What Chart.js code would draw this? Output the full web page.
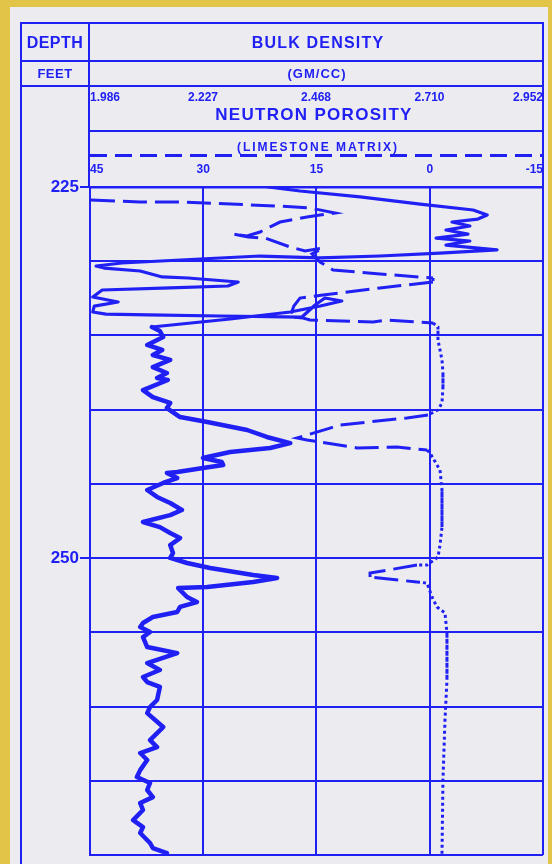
<!DOCTYPE html>
<html>
<head>
<meta charset="utf-8">
<script src="https://cdn.jsdelivr.net/npm/chart.js@4.4.1/dist/chart.umd.min.js"></script>
<style>
  html, body { margin: 0; padding: 0; }
  body { width: 552px; height: 864px; background: #e2c548; position: relative; overflow: hidden;
         font-family: "Liberation Sans", Arial, sans-serif; }
  #paper { position: absolute; left: 10px; top: 7px; width: 538px; height: 857px; background: #ececf0; }
  .ln { position: absolute; background: #2020f5; }
  .tx { position: absolute; transform: translate(-50%, -50%); white-space: nowrap; color: #2020f5;
        font-weight: bold; line-height: 1; z-index: 3; }
  #log { position: absolute; left: 0; top: 0; z-index: 2; }
  #dash { position: absolute; left: 90px; top: 154px; width: 453px; height: 3px;
          background: repeating-linear-gradient(90deg, #2020f5 0 17px, transparent 17px 25px); }
</style>
</head>
<body>
<div id="paper"></div>

<!-- header frame -->
<div class="ln" style="left:20px;top:22px;width:524px;height:2px"></div>
<div class="ln" style="left:20px;top:60px;width:524px;height:2px"></div>
<div class="ln" style="left:20px;top:85px;width:524px;height:2px"></div>
<div class="ln" style="left:20px;top:22px;width:2px;height:842px"></div>
<div class="ln" style="left:88px;top:22px;width:2px;height:166px"></div>
<div class="ln" style="left:542px;top:22px;width:2px;height:166px"></div>
<div id="dash"></div>

<!-- header text -->
<div class="tx" style="left:55px;top:43px;font-size:16px;letter-spacing:0.5px">DEPTH</div>
<div class="tx" style="left:55px;top:73px;font-size:13px;letter-spacing:0.5px">FEET</div>
<div class="tx" style="left:318px;top:43px;font-size:16px;letter-spacing:1.2px">BULK DENSITY</div>
<div class="tx" style="left:317px;top:73px;font-size:13px;letter-spacing:1px">(GM/CC)</div>
<div class="tx" style="left:314px;top:114px;font-size:17px;letter-spacing:1.3px">NEUTRON POROSITY</div>
<div class="tx" style="left:318px;top:147px;font-size:12px;letter-spacing:2px">(LIMESTONE MATRIX)</div>

<canvas id="log" width="552" height="864"></canvas>

<script>
const BLUE = '#2020f5';

// depth track: grid every 5 ft, labels every 25 ft
const depthGrid = [225, 230, 235, 240, 245, 250, 255, 260, 265, 270];
const depthLabels = [225, 250];

// scale ticks of the two curves, left to right
const densityTicks = [1.986, 2.227, 2.468, 2.710, 2.952];
const neutronTicks = [45, 30, 15, 0, -15];

// bulk density (g/cc) against depth (ft), solid curve
const densityDepth = [
  225.00, 225.27, 225.67, 226.15, 226.55, 226.89, 227.16, 227.36, 227.63, 227.90,
  228.17, 228.44, 228.64, 228.91, 229.24, 229.45, 229.65, 229.78, 229.65, 229.85,
  230.12, 230.32, 230.46, 230.66, 231.06, 231.13, 231.40, 231.67, 231.80, 231.94,
  232.41, 232.75, 233.02, 233.42, 233.56, 233.62, 233.69, 233.76, 232.95, 232.48,
  232.68, 233.02, 233.42, 233.89, 234.43, 234.70,
  235.11, 235.64, 235.98, 236.32, 236.65, 237.13, 237.53, 237.87, 238.00, 238.68,
  239.15, 239.55, 239.89, 240.50, 240.83, 241.37, 241.84, 242.25, 242.58, 242.85,
  243.19, 243.26, 243.53, 243.73, 243.93, 244.20, 244.27, 244.61, 244.94, 245.41,
  245.88, 246.29, 246.76, 247.10, 247.57, 247.91, 248.31, 248.65, 249.12, 249.66,
  249.99, 250.33, 250.67, 251.14, 251.34, 251.61, 251.95, 252.02, 252.62, 252.96,
  253.29, 253.63, 253.97, 254.37, 254.64, 254.98, 255.32, 255.99, 256.40, 257.07,
  257.54, 258.01, 258.35, 258.68, 259.56, 260.03, 260.44, 261.38, 262.26, 262.73,
  263.13, 263.60, 264.28, 264.75, 265.15, 265.62, 266.10, 266.50, 266.97, 267.65,
  268.12, 268.52, 269.19, 269.53, 269.87, 270.00
];
const densityValue = [
  2.366, 2.434, 2.562, 2.690, 2.803, 2.833, 2.813, 2.758, 2.796, 2.745,
  2.792, 2.724, 2.796, 2.745, 2.854, 2.732, 2.604, 2.476, 2.349, 2.221,
  2.054, 1.999, 2.016, 2.093, 2.140, 2.195, 2.302, 2.280, 2.157, 2.012,
  1.992, 2.046, 1.995, 1.992, 2.020, 2.110, 2.263, 2.438, 2.466, 2.487,
  2.523, 2.477, 2.413, 2.285, 2.118, 2.135,
  2.142, 2.108, 2.140, 2.120, 2.157, 2.120, 2.150, 2.129, 2.152, 2.099,
  2.120, 2.157, 2.150, 2.178, 2.236, 2.321, 2.363, 2.413, 2.370, 2.285,
  2.236, 2.227, 2.267, 2.270, 2.227, 2.172, 2.150, 2.172, 2.142, 2.108,
  2.129, 2.157, 2.182, 2.157, 2.099, 2.135, 2.157, 2.178, 2.157, 2.163,
  2.157, 2.193, 2.242, 2.334, 2.385, 2.334, 2.236, 2.174, 2.193, 2.214,
  2.178, 2.172, 2.120, 2.099, 2.093, 2.114, 2.099, 2.108, 2.172, 2.108,
  2.135, 2.099, 2.108, 2.135, 2.129, 2.114, 2.108, 2.142, 2.114, 2.129,
  2.093, 2.108, 2.093, 2.086, 2.114, 2.108, 2.120, 2.093, 2.099, 2.078,
  2.099, 2.093, 2.114, 2.120, 2.150, 2.146
];

// neutron porosity (limestone units, %) against depth (ft), dashed curve
const neutronDepth = [
  225.88, 226.01, 226.01, 226.28, 226.41, 226.75, 226.89, 227.02, 227.36, 228.03,
  228.30, 228.17, 228.37, 228.44, 229.04, 229.31, 229.11, 229.51, 230.05, 230.59,
  230.86, 231.13, 231.40, 231.80, 232.28, 232.48, 233.02, 233.76, 233.83, 233.96,
  234.10, 233.96, 234.16, 234.43, 234.97, 235.30, 236.65, 237.53, 238.47, 239.55,
  240.02, 240.36, 240.56, 241.03, 241.24, 241.91, 242.04, 242.58, 242.52, 242.72,
  242.92, 244.07, 245.41, 247.91, 249.12, 249.93, 250.47, 250.47, 251.01, 251.28,
  251.61, 251.68, 252.62, 253.29, 253.70, 255.04, 258.21, 260.90, 264.94, 270.00
];
const neutronValue = [
  44.87, 38.38, 33.08, 20.23, 15.86, 12.55, 14.54, 16.26, 19.83, 22.48,
  24.20, 26.06, 24.07, 21.82, 18.51, 16.52, 14.14, 15.60, 14.54, 12.81,
  6.59, -0.43, -0.43, 6.59, 14.14, 17.19, 18.00, 18.51, 16.79, 15.86,
  7.52, 5.66, -0.43, -1.09, -1.09, -1.09, -1.62, -1.75, -1.75, -1.62,
  -1.09, 0.23, 3.01, 11.89, 13.21, 17.58, 16.26, 9.64, 4.34, 0.36,
  -0.03, -1.36, -1.62, -1.62, -1.36, -1.09, 0.36, 1.69, 7.91, 7.91,
  1.69, 0.36, -0.30, -0.96, -2.02, -2.28, -2.28, -2.02, -1.75, -1.62
];

// top of the salt, below which the density trace is drawn heavier
const saltTop = 234.5;

const toPoints = (depths, values) => depths.map((d, i) => ({ x: values[i], y: d }));

// removes the label overflow margins so the plot frame sits exactly inside the layout padding
const noOverflow = s => { s.paddingLeft = 0; s.paddingRight = 0; s.paddingTop = 0; s.paddingBottom = 0; };

Chart.defaults.font.family = '"Liberation Sans", Arial, sans-serif';

new Chart(document.getElementById('log'), {
  type: 'scatter',
  data: {
    datasets: [
      {
        label: 'Bulk density',
        data: toPoints(densityDepth, densityValue),
        xAxisID: 'x', yAxisID: 'y',
        showLine: true,
        borderColor: BLUE,
        borderWidth: 4.5,
        borderJoinStyle: 'round',
        borderCapStyle: 'round',
        pointRadius: 0,
        tension: 0,
        segment: {
          borderWidth: c => (c.p0.parsed.y < saltTop && c.p1.parsed.y < saltTop) ? 3.2 : 4.5
        }
      },
      {
        label: 'Neutron porosity',
        data: toPoints(neutronDepth, neutronValue),
        xAxisID: 'x2', yAxisID: 'y',
        showLine: true,
        borderColor: BLUE,
        borderWidth: 3,
        pointRadius: 0,
        tension: 0,
        segment: {
          // tight dots along the zero-porosity baseline, long dashes elsewhere
          borderDash: c => (Math.abs(c.p0.parsed.x) < 3 && Math.abs(c.p1.parsed.x) < 3) ? [3, 3] : [24, 8]
        }
      }
    ]
  },
  options: {
    responsive: false,
    animation: false,
    devicePixelRatio: 1,
    layout: { padding: { top: 86, left: 21, right: 9, bottom: 9 } },
    plugins: { legend: { display: false }, tooltip: { enabled: false } },
    scales: {
      y: {
        type: 'linear',
        position: 'left',
        reverse: true,
        min: 225,
        max: 270,
        afterBuildTicks: s => { s.ticks = depthGrid.map(v => ({ value: v })); },
        afterFit: s => { s.width = 69; noOverflow(s); },
        ticks: {
          color: BLUE,
          padding: 1,
          font: { size: 17, weight: 'bold' },
          callback: v => depthLabels.includes(v) ? String(v) : ''
        },
        grid: {
          color: BLUE,
          lineWidth: 2,
          tickLength: 10,
          tickWidth: 2,
          tickColor: c => (c.tick && depthLabels.includes(c.tick.value)) ? BLUE : 'rgba(0,0,0,0)'
        },
        border: { display: true, color: BLUE, width: 2 }
      },
      x: {
        type: 'linear',
        position: 'top',
        weight: 1,
        min: densityTicks[0],
        max: densityTicks[densityTicks.length - 1],
        afterBuildTicks: s => { s.ticks = densityTicks.map(v => ({ value: v })); },
        afterFit: s => { s.height = 45; noOverflow(s); },
        ticks: {
          color: BLUE,
          align: 'inner',
          padding: 26,
          maxRotation: 0,
          font: { size: 12, weight: 'bold' },
          callback: v => v.toFixed(3)
        },
        grid: { color: BLUE, lineWidth: 2, drawTicks: false },
        border: { display: true, color: BLUE, width: 2 }
      },
      x2: {
        type: 'linear',
        position: 'top',
        weight: 0,
        reverse: true,
        min: Math.min(...neutronTicks),
        max: Math.max(...neutronTicks),
        // reversed scale: ticks are handed over in ascending order so the end labels align inward
        afterBuildTicks: s => { s.ticks = [...neutronTicks].sort((a, b) => a - b).map(v => ({ value: v })); },
        afterFit: s => { s.height = 56; noOverflow(s); },
        ticks: {
          color: BLUE,
          align: 'inner',
          padding: 10,
          maxRotation: 0,
          font: { size: 12, weight: 'bold' },
          callback: v => String(v)
        },
        grid: { color: BLUE, lineWidth: 2, drawTicks: false, drawOnChartArea: false },
        border: { display: true, color: BLUE, width: 2.5 }
      }
    }
  }
});
</script>
</body>
</html>
